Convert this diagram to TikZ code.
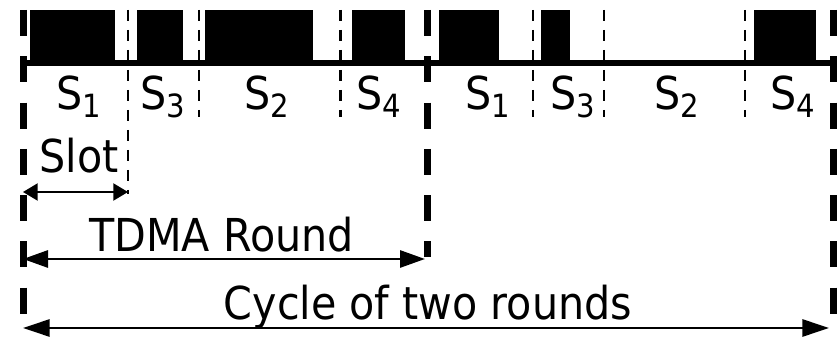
\documentclass[tikz,border=0pt]{standalone}
\usepackage{graphicx}
\usepackage{fontspec}
\setmainfont{DejaVu Sans}
\usetikzlibrary{arrows.meta}

% slot label: letter with a lowered, smaller index
\newcommand{\slotlabel}[2]{\scalebox{0.91}[1]{#1\raisebox{-6pt}{\fontsize{24}{28}\selectfont #2}}}
\newcommand{\squeezed}[1]{\scalebox{0.91}[1]{#1}}

\begin{document}
\begin{tikzpicture}[x=0.75pt,y=-0.75pt,
  roundline/.style={line width=5.25pt, dash pattern=on 19.5pt off 15.2pt},
  slotline/.style={line width=2pt, dash pattern=on 8.25pt off 6.75pt},
  burst/.style={fill=black},
  axis/.style={line width=4.5pt},
  lbl/.style={anchor=base, inner sep=0pt, font=\fontsize{34}{40}\selectfont},
  span/.style={line width=#1},
  slotspan/.style={line width=1.6pt, {Triangle[length=11pt,width=12.75pt]}-{Triangle[length=11pt,width=12.75pt]}},
  roundspan/.style={line width=2.2pt, {Triangle[length=18.75pt,width=12.75pt]}-{Triangle[length=18.75pt,width=12.75pt]}},
  cyclespan/.style={line width=2.2pt, {Triangle[length=20pt,width=12.75pt]}-{Triangle[length=20pt,width=12.75pt]}}
]
\useasboundingbox (0,0) rectangle (840,341);

% transmission bursts of the two rounds
\fill[burst] (30,10) rectangle (115,63);
\fill[burst] (137,10) rectangle (183,63);
\fill[burst] (205,10) rectangle (313,63);
\fill[burst] (352,10) rectangle (405,63);
\fill[burst] (439,10) rectangle (499,63);
\fill[burst] (541,10) rectangle (570,63);
\fill[burst] (754,10) rectangle (816,63);

% time axis
\coordinate (t0) at (23.5,63);
\coordinate (t1) at (833.5,63);
\draw[axis] (t0) -- (t1);

% slot boundaries
\coordinate (s1top) at (128,10);   \coordinate (s1bot) at (128,194);
\coordinate (s2top) at (199,10);   \coordinate (s2bot) at (199,117);
\coordinate (s3top) at (340.5,10); \coordinate (s3bot) at (340.5,117);
\coordinate (s4top) at (533,10);   \coordinate (s4bot) at (533,117);
\coordinate (s5top) at (604,10);   \coordinate (s5bot) at (604,117);
\coordinate (s6top) at (745,10);   \coordinate (s6bot) at (745,117);
\foreach \i in {1,...,6} \draw[slotline] (s\i top) -- (s\i bot);

% round boundaries
\coordinate (r0top) at (23.5,10);  \coordinate (r0bot) at (23.5,314);
\coordinate (r1top) at (427.5,10); \coordinate (r1bot) at (427.5,257);
\coordinate (r2top) at (833.5,10); \coordinate (r2bot) at (833.5,314);
\foreach \i in {0,1,2} \draw[roundline] (r\i top) -- (r\i bot);

% slot owners
\node[lbl] (a1) at (79,110)  {\slotlabel{S}{1}};
\node[lbl] (a3) at (163,110) {\slotlabel{S}{3}};
\node[lbl] (a2) at (267,110) {\slotlabel{S}{2}};
\node[lbl] (a4) at (379,110) {\slotlabel{S}{4}};
\node[lbl] (b1) at (488,110) {\slotlabel{S}{1}};
\node[lbl] (b3) at (573,110) {\slotlabel{S}{3}};
\node[lbl] (b2) at (677,110) {\slotlabel{S}{2}};
\node[lbl] (b4) at (793,110) {\slotlabel{S}{4}};

% durations
\coordinate (slotL) at (23,192);   \coordinate (slotR) at (128,192);
\draw[slotspan] (slotL) -- (slotR);
\node[lbl] (slot) at (79,173) {\squeezed{Slot}};

\coordinate (roundL) at (23,259);  \coordinate (roundR) at (425,259);
\draw[roundspan] (roundL) -- (roundR);
\node[lbl] (round) at (221.5,252) {\squeezed{TDMA Round}};

\coordinate (cycleL) at (23,328);  \coordinate (cycleR) at (829,328);
\draw[cyclespan] (cycleL) -- (cycleR);
\node[lbl] (cycle) at (428,320) {\squeezed{Cycle of two rounds}};
\end{tikzpicture}
\end{document}
